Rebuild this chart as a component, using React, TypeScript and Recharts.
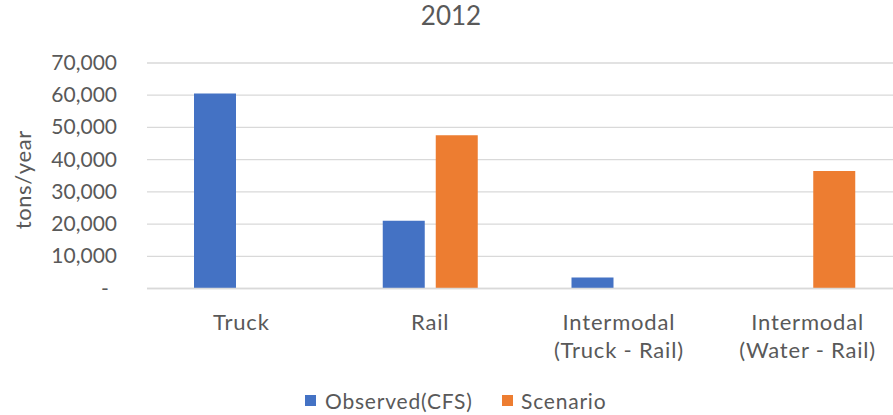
import React from 'react';
import { BarChart, Bar, XAxis, YAxis, CartesianGrid, Label } from 'recharts';

const categories = ['Truck', 'Rail', 'Intermodal\n(Truck - Rail)', 'Intermodal\n(Water - Rail)'];
const observedValues = [60500, 21000, 3400, 0];
const scenarioValues = [0, 47600, 0, 36500];
const yTicks = [0, 10000, 20000, 30000, 40000, 50000, 60000, 70000];
const seriesNames = ['Observed(CFS)', 'Scenario'];
const seriesColors = ['#4472C4', '#ED7D31'];
const title = '2012';
const yLabel = 'tons/year';

const data = categories.map((c, i) => ({
  name: c,
  observed: observedValues[i],
  scenario: scenarioValues[i],
}));

const FONT = 'Lato, "Open Sans", sans-serif';
const TEXT = '#595959';

const XTick = (props: any) => {
  const { x, y, payload } = props;
  const lines = String(payload.value).split('\n');
  return (
    <g>
      {lines.map((l: string, i: number) => (
        <text key={i} x={x} y={y + 39 + i * 28} textAnchor="middle" fill={TEXT} fontSize={22} fontFamily={FONT} letterSpacing={0.8}>
          {l}
        </text>
      ))}
    </g>
  );
};

const YTick = (props: any) => {
  const { x, y, payload } = props;
  if (payload.value === 0) {
    return (
      <text x={x - 12} y={y + 7} textAnchor="middle" fill={TEXT} fontSize={21} fontFamily={FONT}>
        -
      </text>
    );
  }
  return (
    <text x={x} y={y + 7} textAnchor="end" fill={TEXT} fontSize={21} fontFamily={FONT}>
      {Number(payload.value).toLocaleString('en-US')}
    </text>
  );
};

const YLabel = (props: any) => {
  const vb = props.viewBox || { x: 0, y: 63, width: 147, height: 225 };
  const cy = vb.y + vb.height / 2 + 4;
  const cx = 22;
  return (
    <text
      x={cx}
      y={cy}
      transform={`rotate(-90, ${cx}, ${cy})`}
      textAnchor="middle"
      dominantBaseline="central"
      fill={TEXT}
      fontSize={22}
      fontFamily={FONT}
      letterSpacing={0.6}
    >
      {yLabel}
    </text>
  );
};

export default function App() {
  return (
    <div style={{ position: 'relative', width: 893, height: 415, overflow: 'hidden', background: '#fff', fontFamily: FONT }}>
      <style>{`body{margin:0;background:#fff;}`}</style>
      <div
        style={{
          position: 'absolute',
          left: 351,
          top: 0,
          width: 200,
          textAlign: 'center',
          fontSize: 26,
          lineHeight: '31px',
          color: TEXT,
        }}
      >
        {title}
      </div>
      <BarChart
        width={902}
        height={415}
        data={data}
        margin={{ top: 63, right: 0, bottom: 46.5, left: 0 }}
        barGap={11}
        barSize={42}
      >
        <CartesianGrid vertical={false} stroke="#d9d9d9" strokeWidth={1.3} />
        <XAxis
          dataKey="name"
          axisLine={{ stroke: '#d9d9d9', strokeWidth: 1.3 }}
          tickLine={false}
          tickSize={0}
          height={80}
          interval={0}
          tick={<XTick />}
        />
        <YAxis
          domain={[0, 70000]}
          ticks={yTicks}
          width={147}
          axisLine={false}
          tickLine={false}
          tickSize={0}
          tickMargin={30}
          tick={<YTick />}
        >
          <Label content={<YLabel />} />
        </YAxis>
        <Bar dataKey="observed" name={seriesNames[0]} fill={seriesColors[0]} isAnimationActive={false} />
        <Bar dataKey="scenario" name={seriesNames[1]} fill={seriesColors[1]} isAnimationActive={false} />
      </BarChart>
      <div style={{ position: 'absolute', left: 305, top: 385, height: 30, display: 'flex', alignItems: 'center', color: TEXT, fontSize: 21, letterSpacing: 0.8 }}>
        <span style={{ display: 'inline-block', width: 11, height: 11, background: seriesColors[0], marginRight: 9 }} />
        <span>{seriesNames[0]}</span>
      </div>
      <div style={{ position: 'absolute', left: 502, top: 385, height: 30, display: 'flex', alignItems: 'center', color: TEXT, fontSize: 21, letterSpacing: 0.8 }}>
        <span style={{ display: 'inline-block', width: 11, height: 11, background: seriesColors[1], marginRight: 8 }} />
        <span>{seriesNames[1]}</span>
      </div>
    </div>
  );
}
